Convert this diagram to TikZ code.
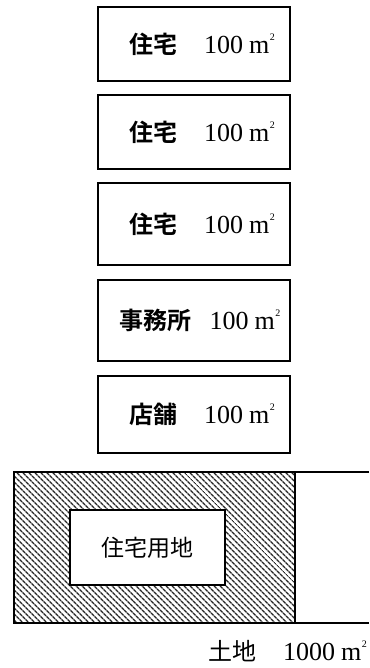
\documentclass[tikz,border=0pt]{standalone}
\usepackage{fontspec}
\setmainfont{Liberation Serif}
\newfontfamily\cjk[BoldFont={Noto Sans CJK JP Bold}]{Noto Sans CJK JP}
\usetikzlibrary{patterns.meta}
\newcommand{\sqmeter}{m\kern0.5pt\raisebox{0.5em}{\fontsize{10}{10}\selectfont 2}}
\newcommand{\num}[1]{{\fontsize{26}{30}\selectfont #1\hspace{6pt}\sqmeter}}
\tikzset{
  floorbox/.style={draw=black, line width=1.5pt, minimum width=192pt, inner sep=0pt, font=\fontsize{24}{28}\selectfont},
  lbl/.style={inner sep=0pt, font=\fontsize{24}{28}\selectfont},
}
\begin{document}
\begin{tikzpicture}[x=1pt,y=-1pt]
\useasboundingbox (0,0) rectangle (369,668);
\node[floorbox, minimum height=74pt] (b1) at (194,44) {\raisebox{-4pt}{\hspace*{16pt}{\cjk\bfseries 住宅}\hspace{27pt}\num{100}}};
\node[floorbox, minimum height=74pt] (b2) at (194,132) {\raisebox{-4pt}{\hspace*{16pt}{\cjk\bfseries 住宅}\hspace{27pt}\num{100}}};
\node[floorbox, minimum height=82pt] (b3) at (194,224) {\raisebox{-3pt}{\hspace*{16pt}{\cjk\bfseries 住宅}\hspace{27pt}\num{100}}};
\node[floorbox, minimum height=81pt] (b4) at (194,320.5) {\raisebox{-3pt}{\hspace*{12pt}{\cjk\bfseries 事務所}\hspace{18pt}\num{100}}};
\node[floorbox, minimum height=77pt] (b5) at (194,414.5) {\raisebox{-3pt}{\hspace*{16pt}{\cjk\bfseries 店舗}\hspace{27pt}\num{100}}};
% land
\fill[pattern={Lines[angle=-45,distance=4pt,line width=1.6pt]}, pattern color=black!85] (14,472) rectangle (295,623);
\draw[line width=1.5pt] (369,472) -- (14,472) -- (14,623) -- (369,623);
\draw[line width=1.5pt] (295,472) -- (295,623);
\node[draw=black, line width=1.5pt, fill=white, minimum width=155pt, minimum height=75pt, inner sep=0pt, font=\fontsize{23}{28}\selectfont] (yochi) at (147.5,547.5) {\cjk 住宅用地};
\node[lbl, anchor=east] (tochi) at (367,651) {{\cjk 土地}\hspace{27pt}\num{1000}};
\end{tikzpicture}
\end{document}
